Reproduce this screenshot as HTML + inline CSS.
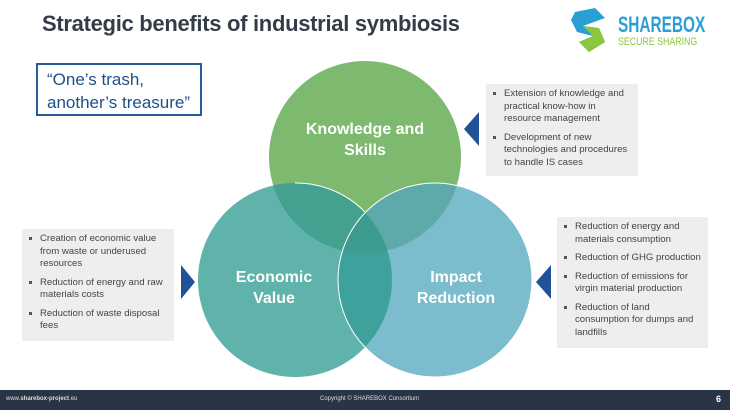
<!DOCTYPE html><html><head><style>
body{margin:0;width:730px;height:410px;position:relative;background:#fff;font-family:"Liberation Sans",sans-serif;overflow:hidden}
.t{position:absolute;left:42px;top:11px;font-size:22px;font-weight:bold;color:#333c48;letter-spacing:-0.3px}
.q{position:absolute;left:36px;top:63px;width:166px;height:53px;border:2px solid #2a5d97;font-size:17px;color:#1f4f8a;padding:3px 0 0 9px;box-sizing:border-box;line-height:23px}
.box{position:absolute;background:#eeeeee;font-size:9.6px;color:#444;line-height:12.5px;box-sizing:border-box;padding:4px 6px 4px 18px}
.box p{margin:0 0 6px 0;position:relative}
.box p:before{content:"";position:absolute;left:-11px;top:4px;width:3px;height:3px;background:#555}
.tri{position:absolute;width:0;height:0;border-top:17px solid transparent;border-bottom:17px solid transparent}
.f{position:absolute;left:0;top:390px;width:730px;height:20px;background:#283545;color:#ddd;font-size:6px}
</style></head><body>
<div class="t">Strategic benefits of industrial symbiosis</div>
<div style="position:absolute;left:569px;top:8px;width:38px;height:42px">
<svg width="40" height="44"><path d="M6 4 L26 0 L36 10 L14 18 L30 20 L36 34 L20 44 L10 34 L24 28 L8 24 L2 12Z" fill="#2a9fd6"/><path d="M14 18 L30 20 L36 34 L20 44 L10 34 L24 28Z" fill="#8cc63f"/></svg></div>
<div style="position:absolute;left:618px;top:12px;font-size:22px;font-weight:bold;color:#2a9fd6;transform:scaleX(0.7);transform-origin:left;letter-spacing:0">SHAREBOX</div>
<div style="position:absolute;left:618px;top:36px;font-size:11px;color:#8cc63f;transform:scaleX(0.8);transform-origin:left">SECURE SHARING</div>
<div class="q">“One’s trash,<br>another’s treasure”</div>
<svg style="position:absolute;left:0;top:0" width="730" height="410">
<defs><clipPath id="a"><circle cx="365" cy="157" r="96"/></clipPath><clipPath id="b"><circle cx="295" cy="280" r="97"/></clipPath></defs>
<circle cx="365" cy="157" r="96" fill="#7db96f"/>
<circle cx="295" cy="280" r="97" fill="#5fb3aa"/>
<circle cx="435" cy="280" r="97" fill="#7bbccd"/>
<circle cx="295" cy="280" r="97" fill="#44a08f" clip-path="url(#a)"/>
<circle cx="435" cy="280" r="97" fill="#5ea9aa" clip-path="url(#a)"/>
<circle cx="435" cy="280" r="97" fill="#3fa19c" clip-path="url(#b)"/>
<g clip-path="url(#a)"><circle cx="435" cy="280" r="97" fill="#3d9c8f" clip-path="url(#b)"/></g>
<circle cx="435" cy="280" r="97" fill="none" stroke="#fff" stroke-width="1"/>
<path d="M295 183 A97 97 0 0 1 365 212" fill="none" stroke="#fff" stroke-width="1"/>
<g fill="#fff" font-family="Liberation Sans" font-size="16" font-weight="bold" text-anchor="middle">
<text x="365" y="134">Knowledge and</text><text x="365" y="155">Skills</text>
<text x="274" y="282">Economic</text><text x="274" y="303">Value</text>
<text x="456" y="282">Impact</text><text x="456" y="303">Reduction</text></g>
</svg>
<div class="tri" style="left:464px;top:112px;border-right:15px solid #1f5296"></div>
<div class="tri" style="left:181px;top:265px;border-left:14px solid #1f5296"></div>
<div class="tri" style="left:536px;top:265px;border-right:15px solid #1f5296"></div>
<div class="box" style="left:486px;top:84px;width:152px;height:92px"><p>Extension of knowledge and practical know-how in resource management</p><p>Development of new technologies and procedures to handle IS cases</p></div>
<div class="box" style="left:22px;top:229px;width:152px;height:112px"><p>Creation of economic value from waste or underused resources</p><p>Reduction of energy and raw materials costs</p><p>Reduction of waste disposal fees</p></div>
<div class="box" style="left:557px;top:217px;width:151px;height:131px"><p>Reduction of energy and materials consumption</p><p>Reduction of GHG production</p><p>Reduction of emissions for virgin material production</p><p>Reduction of land consumption for dumps and landfills</p></div>
<div class="f"><span style="position:absolute;left:6px;top:6px">www.<b>sharebox-project</b>.eu</span><span style="position:absolute;left:320px;top:6px">Copyright © SHAREBOX Consortium</span><span style="position:absolute;left:716px;top:4px;font-size:9px;font-weight:bold;color:#fff">6</span></div>
</body></html>
